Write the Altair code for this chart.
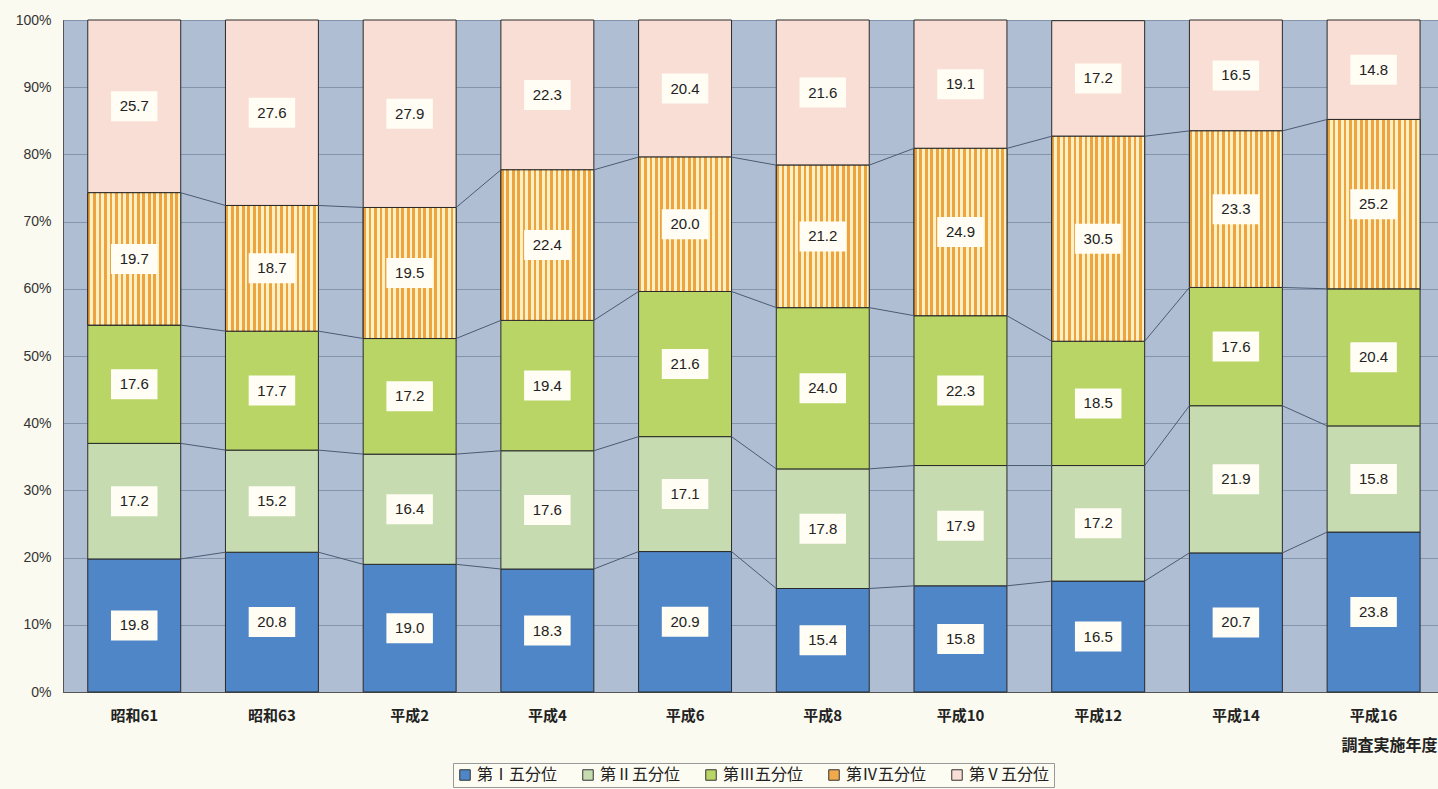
import altair as alt
import pandas as pd

cats = ["昭和61", "昭和63", "平成2", "平成4", "平成6", "平成8", "平成10", "平成12", "平成14", "平成16"]
series = ["第Ⅰ五分位", "第Ⅱ五分位", "第Ⅲ五分位", "第Ⅳ五分位", "第Ⅴ五分位"]
q1 = [19.8, 20.8, 19.0, 18.3, 20.9, 15.4, 15.8, 16.5, 20.7, 23.8]
q2 = [17.2, 15.2, 16.4, 17.6, 17.1, 17.8, 17.9, 17.2, 21.9, 15.8]
q3 = [17.6, 17.7, 17.2, 19.4, 21.6, 24.0, 22.3, 18.5, 17.6, 20.4]
q4 = [19.7, 18.7, 19.5, 22.4, 20.0, 21.2, 24.9, 30.5, 23.3, 25.2]
q5 = [25.7, 27.6, 27.9, 22.3, 20.4, 21.6, 19.1, 17.2, 16.5, 14.8]
yticks = [0, 10, 20, 30, 40, 50, 60, 70, 80, 90, 100]

colors = ["#4f86c8", "#c6dcb0", "#b8d566", "#f0aa4c", "#f8ded4"]

vals = [q1, q2, q3, q4, q5]
rows = []
cum = []
for i, c in enumerate(cats):
    base = 0.0
    tops = []
    for s, v in zip(series, vals):
        val = v[i]
        rows.append({"cat": c, "series": s, "val": val, "y0": base, "y1": base + val,
                     "mid": base + val / 2, "label": f"{val:.1f}"})
        base += val
        tops.append(base)
    cum.append(tops)
df = pd.DataFrame(rows)

lrows = []
for i in range(len(cats) - 1):
    for k in range(4):
        lrows.append({"cat": cats[i], "cat_next": cats[i + 1], "ya": cum[i][k], "yb": cum[i + 1][k]})
ldf = pd.DataFrame(lrows)

xscale = alt.Scale(domain=cats, paddingInner=0.325, paddingOuter=0.155, align=0.58)
yscale = alt.Scale(domain=[0, 100], nice=False)

xaxis = alt.Axis(title="調査実施年度", labelAngle=0, labelFont="Noto Sans CJK JP", labelFontWeight="bold",
                 labelFontSize=15, labelColor="#222", labelPadding=16, ticks=False,
                 domainColor="#555", titleFont="Noto Sans CJK JP", titleFontWeight="bold",
                 titleFontSize=16, titleColor="#222", titleAlign="right", titleX=1374, titleY=53,
                 titleBaseline="middle", titleAnchor="end")
yaxis = alt.Axis(title=None, values=yticks, labelExpr="datum.value + '%'", labelFont="Liberation Sans",
                 labelFontSize=14, labelColor="#333", labelPadding=12, ticks=False, domainColor="#555",
                 grid=True, gridColor="#8394ad", gridWidth=1)

bars = alt.Chart(df).mark_bar(stroke="#2a2a2a", strokeWidth=1).encode(
    x=alt.X("cat:N", scale=xscale, axis=xaxis, sort=cats),
    y=alt.Y("y0:Q", scale=yscale, axis=yaxis),
    y2="y1:Q",
    color=alt.Color("series:N", scale=alt.Scale(domain=series, range=colors),
                    legend=alt.Legend(title=None, orient="none", direction="horizontal",
                                      legendX=390, legendY=743, symbolType="square", symbolSize=110,
                                      symbolStrokeColor="#333", symbolStrokeWidth=1,
                                      labelFont="Noto Sans CJK JP", labelFontSize=16, labelColor="#222",
                                      fillColor="#fdfcf3", strokeColor="#999", padding=4,
                                      columnPadding=22, symbolOffset=0)),
)

nstripe = 17
stops = []
for k in range(nstripe):
    a = k / nstripe
    b = (k + 0.5) / nstripe
    e = (k + 1) / nstripe
    stops += [alt.GradientStop(offset=a, color="#eea43e"), alt.GradientStop(offset=b, color="#eea43e"),
              alt.GradientStop(offset=b, color="#fdf0c4"), alt.GradientStop(offset=e, color="#fdf0c4")]
grad = alt.LinearGradient(gradient="linear", stops=stops, x1=0, x2=1, y1=0, y2=0)

stripes = alt.Chart(df).transform_filter(alt.datum.series == "第Ⅳ五分位").mark_bar(
    fill=grad, stroke="#2a2a2a", strokeWidth=1).encode(
    x=alt.X("cat:N", sort=cats),
    y="y0:Q",
    y2="y1:Q",
)

lines = alt.Chart(ldf).mark_rule(color="#4b5b72", strokeWidth=1).encode(
    x=alt.X("cat:N", bandPosition=1, sort=cats),
    x2=alt.X2("cat_next", bandPosition=0),
    y="ya:Q",
    y2="yb:Q",
)

boxes = alt.Chart(df).mark_point(shape="M-1.55,-1H1.55V1H-1.55Z", filled=True, fill="#fffdf4",
                                 opacity=1, size=900, strokeWidth=0).encode(
    x=alt.X("cat:N", sort=cats),
    y="mid:Q",
)

texts = alt.Chart(df).mark_text(font="Liberation Sans", fontSize=15, color="#222").encode(
    x=alt.X("cat:N", sort=cats),
    y="mid:Q",
    text="label:N",
)

chart = alt.layer(bars, stripes, lines, boxes, texts).properties(
    width=1375, height=672,
    autosize=alt.AutoSizeParams(type="none"),
    padding={"left": 63, "top": 20, "right": 0, "bottom": 97},
    background="#fbfaf0",
).configure_view(fill="#afbed3", stroke="#555", strokeWidth=1)

chart.save("out.html", embed_options={"renderer": "svg", "actions": False})
